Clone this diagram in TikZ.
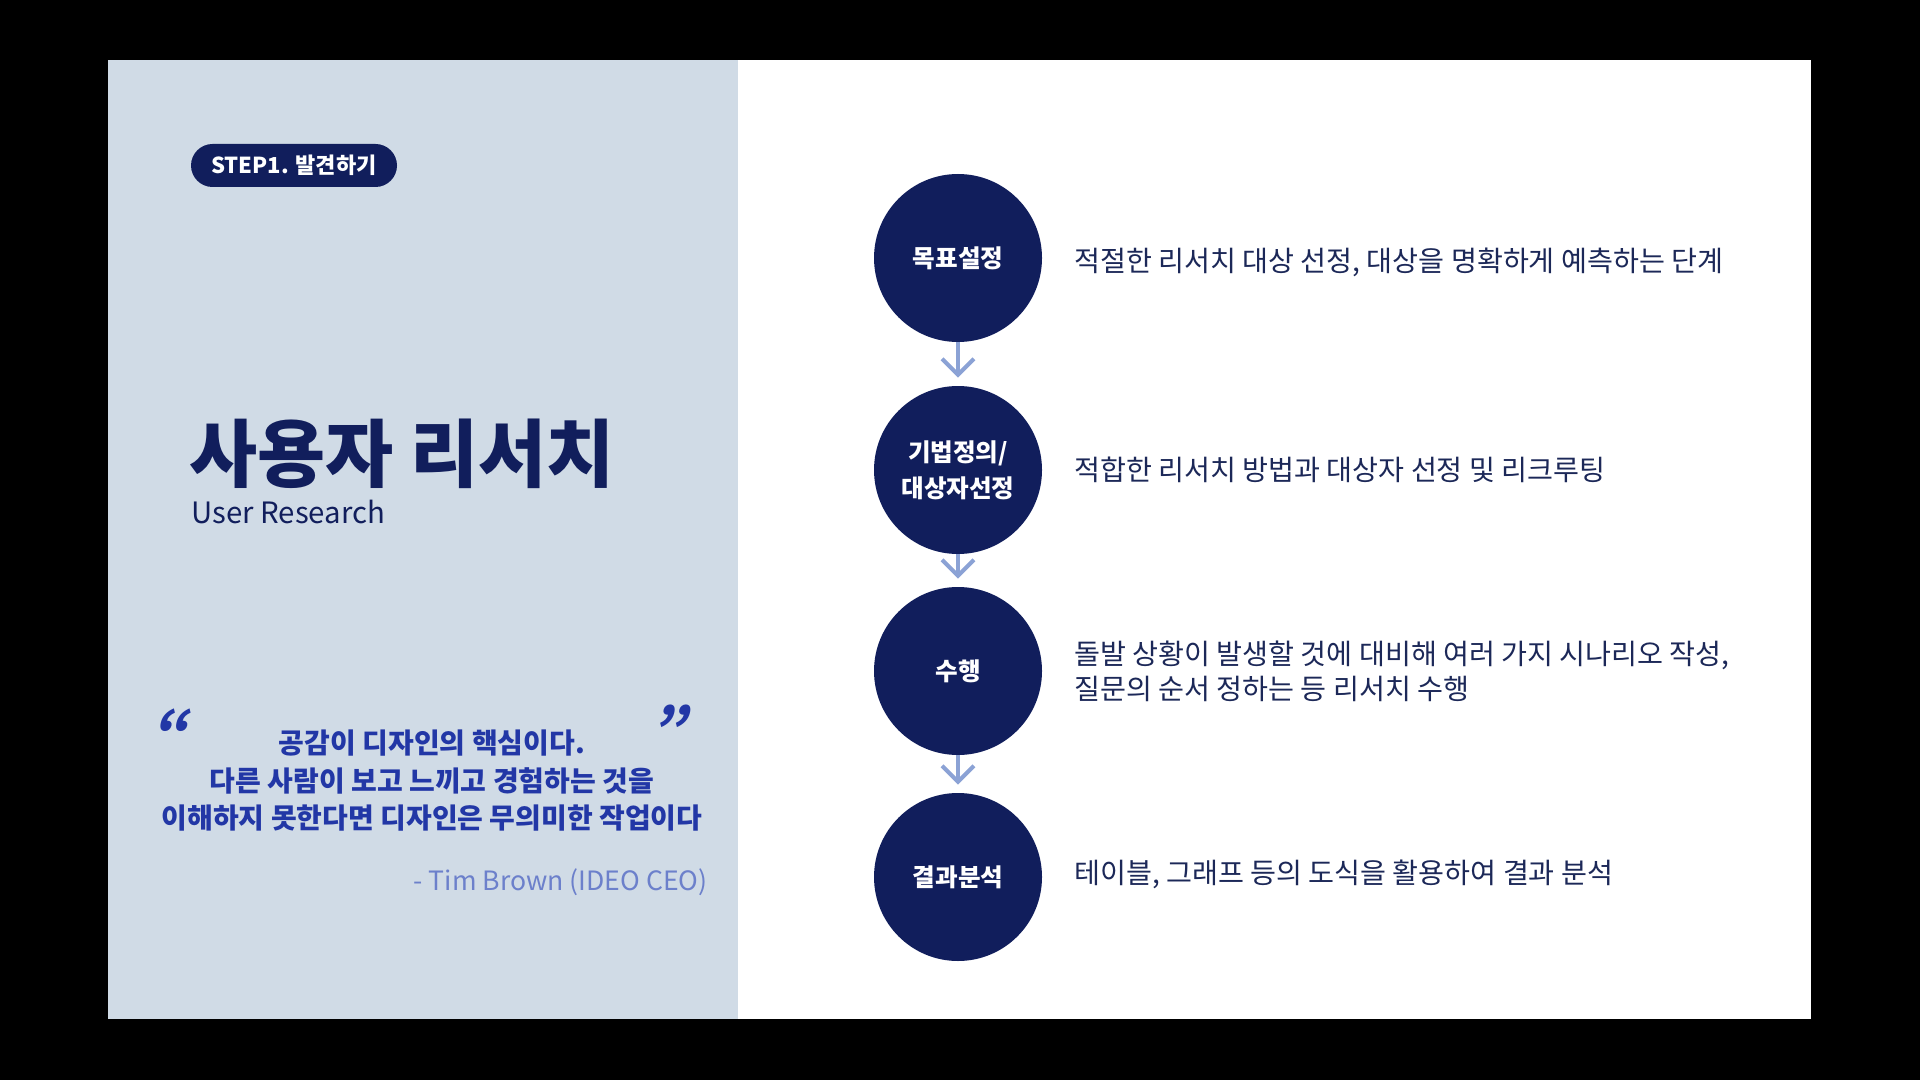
\documentclass[tikz,border=0pt]{standalone}
\usepackage{fontspec}
\setmainfont{Noto Sans CJK KR}
\usetikzlibrary{arrows.meta}
\definecolor{nuit}{HTML}{111E5C}
\definecolor{panneau}{HTML}{D0DBE6}
\definecolor{ciel}{HTML}{8BA2D5}
\definecolor{encre}{HTML}{1C2858}
\definecolor{bleu}{HTML}{2237A6}
\definecolor{pale}{HTML}{6C80CB}
\begin{document}
\begin{tikzpicture}[x=0.5pt,y=-0.5pt]
\tikzset{rond/.style={circle, fill=nuit, minimum size=84pt, inner sep=0pt, text=white, align=center, font=\bfseries\fontsize{12.3}{18}\selectfont},
fleche/.style={draw=ciel, line width=2pt, -{Straight Barb[length=8pt,width=16pt]}, shorten >=4pt},
desc/.style={anchor=west, inner sep=0pt, text=encre, align=left, font=\fontsize{14.1}{17.5}\selectfont},
cite/.style={inner sep=0pt, text=bleu, font=\bfseries\fontsize{14}{18.75}\selectfont},
guillemet/.style={anchor=base, inner sep=0pt, text=bleu, xslant=0.25, transform shape, font=\bfseries\fontsize{28}{28}\selectfont}}
\fill (0,0) rectangle (1920,1080);
\fill[panneau] (108,60) rectangle (738,1019);
\fill[white] (738,60) rectangle (1811,1019);
\node[fill=nuit, rounded corners=10.75pt, minimum width=103pt, minimum height=21.5pt, inner sep=0pt, text=white, font=\bfseries\fontsize{11}{12}\selectfont] (P) at (294,165.5) {STEP1. 발견하기};
\node[anchor=base west, inner sep=0pt, text=nuit, font=\bfseries\fontsize{37}{40}\selectfont] (T) at (189,481) {사용자 리서치};
\node[anchor=west, inner sep=0pt, text=nuit, font=\fontsize{14.7}{18}\selectfont] (U) at (191,512) {User Research};
\node[guillemet] (M1) at (168,752) {“};
\node[guillemet] (M2) at (667,749) {”};
\node[cite] (Q1) at (432,743) {공감이 디자인의 핵심이다.};
\node[cite] (Q2) at (432,781) {다른 사람이 보고 느끼고 경험하는 것을};
\node[cite] (Q3) at (432,818) {이해하지 못한다면 디자인은 무의미한 작업이다};
\node[anchor=east, inner sep=0pt, text=pale, font=\fontsize{13.3}{16}\selectfont] (A) at (708,882) {- Tim Brown (IDEO CEO)};
\node[rond] (S1) at (958,258) {목표설정};
\node[rond] (S2) at (958,470) {기법정의/\\대상자선정};
\node[rond] (S3) at (958,671) {수행};
\node[rond] (S4) at (958,877) {결과분석};
\draw[fleche] (S1) -- (S2);
\draw[fleche] (S2) -- (S3);
\draw[fleche] (S3) -- (S4);
\node[desc] (D1) at (1074,262) {적절한 리서치 대상 선정, 대상을 명확하게 예측하는 단계};
\node[desc] (D2) at (1074,470) {적합한 리서치 방법과 대상자 선정 및 리크루팅};
\node[desc] (D3) at (1074,671) {돌발 상황이 발생할 것에 대비해 여러 가지 시나리오 작성,\\질문의 순서 정하는 등 리서치 수행};
\node[desc] (D4) at (1074,874) {테이블, 그래프 등의 도식을 활용하여 결과 분석};
\end{tikzpicture}
\end{document}
